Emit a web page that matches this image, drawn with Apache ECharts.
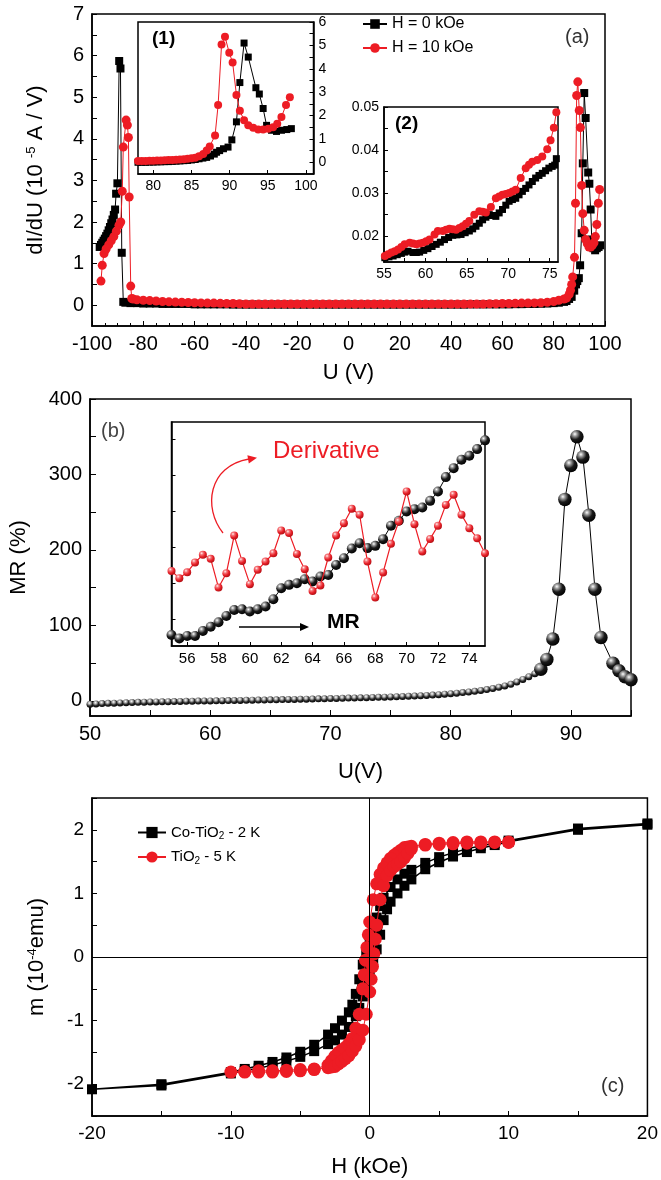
<!DOCTYPE html>
<html><head><meta charset="utf-8">
<script src="https://cdn.jsdelivr.net/npm/echarts@6.0.0/dist/echarts.min.js"></script>
<style>html,body{margin:0;padding:0;background:#fff}#c{width:661px;height:1180px}</style>
</head><body><div id="c"></div>
<script>
// ---------- DATA ----------
// Panel (a): dI/dU vs U (main)
const dIdU_H0 = [[-97,1.40],[-96.5,1.45],[-96,1.50],[-95.5,1.55],[-95,1.60],[-94.5,1.66],[-94,1.72],[-93.5,1.80],[-93,1.88],[-92.5,1.97],[-92,2.06],[-91.5,2.17],[-91,2.30],[-90.6,2.68],[-90.1,2.93],[-89.4,5.87],[-88.9,5.69],[-88.4,1.26],[-87.8,0.08],
[-87,0.06],[-85,0.05],[-82.5,0.05],[-80,0.04],[-77.5,0.04],[-75,0.04],[-72.5,0.03],[-70,0.03],[-67.5,0.03],[-65,0.03],[-62.5,0.03],[-60,0.02],[-57.5,0.02],[-55,0.02],[-52.5,0.02],[-50,0.02],[-47.5,0.02],[-45,0.015],[-42.5,0.015],[-40,0.015],[-37.5,0.015],[-35,0.015],[-32.5,0.015],[-30,0.015],[-27.5,0.015],[-25,0.015],[-22.5,0.015],[-20,0.015],[-17.5,0.015],[-15,0.015],[-12.5,0.015],[-10,0.015],[-7.5,0.015],[-5,0.015],[-2.5,0.015],[0,0.015],[2.5,0.015],[5,0.015],[7.5,0.015],[10,0.015],[12.5,0.015],[15,0.015],[17.5,0.015],[20,0.015],[22.5,0.015],[25,0.015],[27.5,0.015],[30,0.015],[32.5,0.015],[35,0.015],[37.5,0.015],[40,0.015],[42.5,0.015],[45,0.015],[47.5,0.02],[50,0.02],[52.5,0.02],[55,0.02],[57.5,0.02],[60,0.02],[62.5,0.02],[65,0.025],[67.5,0.025],[70,0.03],[72.5,0.03],[75,0.035],[77.5,0.04],[80,0.05],
[82,0.06],[84,0.08],[85,0.1],[86,0.15],[87,0.2],[88,0.35],[88.7,0.5],[89.2,0.58],[89.8,0.65],[90.3,0.96],[90.9,1.73],[91.35,3.41],[91.9,5.1],[92.45,4.5],[93.45,3.19],[93.9,2.92],[94.4,2.3],[94.85,1.58],[95.5,1.37],[96.15,1.32],[96.8,1.37],[97.5,1.4],[98.1,1.44]];
const dIdU_H10 = [[-96.5,0.58],[-96,0.96],[-95.3,1.24],[-94.5,1.35],[-93.5,1.45],[-92.5,1.55],[-91.5,1.65],[-90.5,1.78],[-89.5,1.92],[-88.8,2.0],[-88.2,2.74],[-87.8,3.8],[-86.7,4.45],[-86.2,4.33],[-85.8,4.03],[-85.5,2.6],[-84.9,0.46],[-84.5,0.16],
[-84,0.15],[-82.5,0.13],[-80,0.12],[-77.5,0.11],[-75,0.1],[-72.5,0.09],[-70,0.08],[-67.5,0.075],[-65,0.07],[-62.5,0.065],[-60,0.06],[-57.5,0.055],[-55,0.05],[-52.5,0.05],[-50,0.045],[-47.5,0.04],[-45,0.04],[-42.5,0.035],[-40,0.03],[-37.5,0.03],[-35,0.03],[-32.5,0.03],[-30,0.03],[-27.5,0.03],[-25,0.03],[-22.5,0.03],[-20,0.03],[-17.5,0.03],[-15,0.03],[-12.5,0.03],[-10,0.03],[-7.5,0.03],[-5,0.03],[-2.5,0.03],[0,0.03],[2.5,0.03],[5,0.03],[7.5,0.03],[10,0.03],[12.5,0.03],[15,0.03],[17.5,0.03],[20,0.03],[22.5,0.03],[25,0.03],[27.5,0.03],[30,0.03],[32.5,0.03],[35,0.03],[37.5,0.03],[40,0.03],[42.5,0.03],[45,0.03],[47.5,0.03],[50,0.03],[52.5,0.03],[55,0.035],[57.5,0.035],[60,0.04],[62.5,0.04],[65,0.045],[67.5,0.05],[70,0.05],[72.5,0.055],[75,0.06],[77.5,0.07],[80,0.09],
[82,0.12],[84,0.15],[85,0.17],[86,0.26],[86.55,0.36],[87,0.5],[87.4,0.68],[88.1,1.15],[88.5,2.45],[88.95,5.04],[89.4,5.37],[89.96,4.68],[90.4,4.27],[90.9,2.88],[91.35,2.2],[91.9,1.8],[92.45,1.58],[93.1,1.48],[93.75,1.4],[94.4,1.4],[95.07,1.44],[95.7,1.5],[96.25,1.65],[96.8,1.94],[97.4,2.45],[97.9,2.78]];

// Inset (1): 78-101 V
const in1_H0 = [[78,0.0],[78.5,0.0],[79,0.0],[79.5,0.01],[80,0.01],[80.5,0.02],[81,0.02],[81.5,0.03],[82,0.03],[82.5,0.04],[83,0.05],[83.5,0.06],[84,0.07],[84.5,0.08],[85,0.1],[85.5,0.12],[86,0.15],[86.5,0.18],[87,0.21],[87.5,0.27],[88,0.35],[88.3,0.43],[88.7,0.5],[89.2,0.58],[89.8,0.65],[90.3,0.96],[90.9,1.73],[91.35,3.41],[91.9,5.1],[92.45,4.5],[93.45,3.19],[93.9,2.92],[94.4,2.3],[94.85,1.58],[95.5,1.37],[96.15,1.32],[96.8,1.37],[97.5,1.4],[98.1,1.44]];
const in1_H10 = [[78,0.06],[78.5,0.06],[79,0.06],[79.5,0.07],[80,0.07],[80.5,0.08],[81,0.08],[81.5,0.09],[82,0.1],[82.5,0.1],[83,0.11],[83.5,0.12],[84,0.13],[84.5,0.15],[85,0.17],[85.5,0.2],[86,0.26],[86.55,0.36],[87,0.5],[87.4,0.68],[88.1,1.15],[88.5,2.45],[88.95,5.04],[89.4,5.37],[89.96,4.68],[90.4,4.27],[90.9,2.88],[91.35,2.2],[91.9,1.8],[92.45,1.58],[93.1,1.48],[93.75,1.4],[94.4,1.4],[95.07,1.44],[95.7,1.5],[96.25,1.65],[96.8,1.94],[97.4,2.45],[97.9,2.78]];

// Inset (2): 55-76 V
const in2_H0 = [[55.1,0.0150],[55.6,0.0152],[56.1,0.0154],[56.6,0.0157],[57.1,0.0160],[57.5,0.0163],[57.9,0.0165],[58.5,0.0162],[58.9,0.0162],[59.3,0.0163],[59.8,0.0167],[60.3,0.0171],[60.8,0.0176],[61.3,0.0181],[61.8,0.0186],[62.3,0.0192],[62.8,0.0197],[63.3,0.0202],[63.8,0.0203],[64.3,0.0204],[64.8,0.0208],[65.3,0.0212],[65.7,0.0217],[66.1,0.0223],[66.5,0.0230],[66.9,0.0238],[67.3,0.0244],[67.7,0.0250],[68.1,0.0248],[68.5,0.0246],[68.9,0.0254],[69.3,0.0262],[69.7,0.0272],[70.1,0.0281],[70.5,0.0285],[70.9,0.0288],[71.3,0.0296],[71.7,0.0304],[72.1,0.0311],[72.5,0.0319],[72.9,0.0327],[73.3,0.0335],[73.7,0.0341],[74.1,0.0346],[74.5,0.0352],[74.9,0.0358],[75.3,0.0362],[75.6,0.0365],[75.8,0.0380]];
const in2_H10 = [[55.1,0.0154],[55.5,0.0158],[55.9,0.0162],[56.3,0.0165],[56.7,0.0169],[57.1,0.0175],[57.5,0.0181],[58.1,0.0185],[58.5,0.0183],[58.9,0.0181],[59.3,0.0183],[59.7,0.0185],[60.1,0.0188],[60.5,0.0192],[61.1,0.0204],[61.5,0.0212],[62.1,0.0212],[62.5,0.0215],[62.9,0.0217],[63.3,0.0216],[63.7,0.0215],[64.1,0.0219],[64.5,0.0223],[64.9,0.0229],[65.3,0.0235],[65.9,0.0250],[66.5,0.0258],[66.9,0.0257],[67.3,0.0255],[67.9,0.0268],[68.5,0.0288],[68.9,0.0292],[69.3,0.0296],[69.7,0.0298],[70.1,0.0300],[70.5,0.0304],[70.9,0.0308],[71.5,0.0335],[72.1,0.0358],[72.5,0.0366],[72.9,0.0373],[73.5,0.0377],[74.1,0.0385],[74.7,0.0402],[75.1,0.0423],[75.5,0.0452],[75.8,0.0488]];

// Panel (b): MR vs U
const MR_main = [[50,-4.5],[50.5,-4],[51,-3.5],[51.5,-3.2],[52,-3],[52.5,-2.7],[53,-2.4],[53.5,-2.1],[54,-1.9],[54.5,-1.7],[55,-1.5],[55.5,-1.3],[56,-1.1],[56.5,-1],[57,-0.8],[57.5,-0.7],[58,-0.5],[58.5,-0.4],[59,-0.2],[59.5,-0.1],[60,0],[60.5,0.1],[61,0.3],[61.5,0.4],[62,0.6],[62.5,0.7],[63,0.8],[63.5,1],[64,1.1],[64.5,1.2],[65,1.4],[65.5,1.5],[66,1.7],[66.5,1.9],[67,2],[67.5,2.2],[68,2.3],[68.5,2.5],[69,2.7],[69.5,2.9],[70,3.1],[70.5,3.3],[71,3.5],[71.5,3.7],[72,3.9],[72.5,4.1],[73,4.3],[73.5,4.6],[74,4.8],[74.5,5],[75,5.3],[75.5,5.6],[76,5.9],[76.5,6.2],[77,6.5],[77.5,6.9],[78,7.3],[78.5,7.8],[79,8.3],[79.5,8.9],[80,9.5],[80.5,10.2],[81,11],[81.5,11.8],[82,12.7],[82.5,13.8],[83,15],[83.5,16.4],[84,18],[84.5,19.8],[85,22],[85.5,25],[86,28.5],[86.5,32],[87,36],[87.5,42],[88,55],[88.5,82],[89,148],[89.5,267],[90,312],[90.5,350],[91,323],[91.5,246],[92,148],[92.5,84],[93.5,50],[94,40],[94.5,32],[95,28]];
// Panel (b) inset: 55-75 V (arbitrary units)
const insU = [55,55.5,56,56.5,57,57.5,58,58.5,59,59.5,60,60.5,61,61.5,62,62.5,63,63.5,64,64.5,65,65.5,66,66.5,67,67.5,68,68.5,69,69.5,70,70.5,71,71.5,72,72.5,73,73.5,74,74.5,75];
const insMR = [4.9,3.4,4.5,4.5,6.7,8.6,10.6,13.4,16.1,16.4,15.4,16.4,17.6,20.9,25.8,27.3,28.0,29.8,28.8,31.0,31.7,36.2,39.2,43.5,45.9,43.7,44.7,47.7,53.7,55.9,60.1,61.1,61.8,64.8,69.0,75.4,79.4,83.2,84.9,87.9,91.8];
const insDeriv = [33.5,30.3,32.9,37.3,40.7,38.9,26.1,32.5,49.3,38.0,27.6,34.0,37.7,41.4,51.6,50.4,41.1,34.3,24.6,27.0,39.5,49.3,54.8,61.3,58.6,37.7,21.6,32.8,45.6,55.6,69.0,54.4,42.2,47.8,53.7,63.0,67.5,58.6,52.6,48.1,41.4];

// Panel (c): m vs H loops
const m_CoTiO2 = [[20,2.1],[15,2.02],[10,1.83],[9,1.79],[8,1.75],[7,1.7],[6,1.64],[5,1.57],[4,1.48],[3,1.37],[2.5,1.31],[2,1.22],[1.5,1.1],[1,0.93],[0.75,0.8],[0.5,0.62],[0.25,0.42],[0,0.22],[-0.25,0.05],[-0.5,-0.12],[-0.75,-0.35],[-1,-0.58],[-1.25,-0.75],[-1.5,-0.87],[-2,-1.0],[-2.5,-1.12],[-3,-1.22],[-4,-1.38],[-5,-1.49],[-6,-1.58],[-7,-1.65],[-8,-1.71],[-9,-1.76],[-10,-1.81],[-15,-2.0],[-20,-2.08],
[-15,-2.02],[-10,-1.83],[-9,-1.79],[-8,-1.75],[-7,-1.7],[-6,-1.64],[-5,-1.57],[-4,-1.48],[-3,-1.37],[-2.5,-1.31],[-2,-1.22],[-1.5,-1.1],[-1,-0.93],[-0.75,-0.8],[-0.5,-0.62],[-0.25,-0.42],[0,-0.22],[0.25,-0.05],[0.5,0.12],[0.75,0.35],[1,0.58],[1.25,0.75],[1.5,0.87],[2,1.0],[2.5,1.12],[3,1.22],[4,1.38],[5,1.49],[6,1.58],[7,1.65],[8,1.71],[9,1.76],[10,1.81],[15,2.0],[20,2.08]];
const m_TiO2 = [[10,1.8],[9,1.81],[8,1.81],[7,1.81],[6,1.8],[5,1.79],[4,1.77],[3,1.74],[2.75,1.73],[2.5,1.72],[2.25,1.68],[2,1.64],[1.75,1.6],[1.5,1.55],[1.25,1.48],[1,1.4],[0.75,1.3],[0.5,1.15],[0.25,0.9],[0,0.55],[-0.1,0.35],[-0.2,0.15],[-0.3,-0.05],[-0.4,-0.28],[-0.5,-0.5],[-0.75,-0.9],[-1,-1.12],[-1.25,-1.28],[-1.5,-1.36],[-1.75,-1.42],[-2,-1.46],[-2.25,-1.5],[-2.5,-1.56],[-2.75,-1.63],[-3,-1.7],[-4,-1.76],[-5,-1.77],[-6,-1.78],[-7,-1.79],[-8,-1.79],[-9,-1.8],[-10,-1.81],
[-9,-1.81],[-8,-1.81],[-7,-1.81],[-6,-1.8],[-5,-1.79],[-4,-1.77],[-3,-1.74],[-2.75,-1.73],[-2.5,-1.72],[-2.25,-1.68],[-2,-1.64],[-1.75,-1.6],[-1.5,-1.55],[-1.25,-1.48],[-1,-1.4],[-0.75,-1.3],[-0.5,-1.15],[-0.25,-0.9],[0,-0.55],[0.1,-0.35],[0.2,-0.15],[0.3,0.05],[0.4,0.28],[0.5,0.5],[0.75,0.9],[1,1.12],[1.25,1.28],[1.5,1.36],[1.75,1.42],[2,1.46],[2.25,1.5],[2.5,1.56],[2.75,1.63],[3,1.7],[4,1.76],[5,1.77],[6,1.78],[7,1.79],[8,1.79],[9,1.8],[10,1.81]];

// Tick values
const aYLabels = [0,1,2,3,4,5,6,7];
const aYTicks = [0,0.5,1,1.5,2,2.5,3,3.5,4,4.5,5,5.5,6,6.5,7];
const in1XLabels = [80,85,90,95,100];
const in1YLabels = [0,1,2,3,4,5,6];
const in1YTicks = [0,0.5,1,1.5,2,2.5,3,3.5,4,4.5,5,5.5,6];
const in2XLabels = [55,60,65,70,75];
const in2XTicks = [55,57.5,60,62.5,65,67.5,70,72.5,75];
const in2YLabels = [0.02,0.03,0.04,0.05];
const in2YTicks = [0.015,0.02,0.025,0.03,0.035,0.04,0.045,0.05];
const bYLabels = [0,100,200,300,400];
const bYTicks = [0,50,100,150,200,250,300,350,400];
const insXLabels = [56,58,60,62,64,66,68,70,72,74];
const insYTicks = [11.8,27.9,44.0,60.1,76.2,92.3];

// ---------- STYLE / OPTION ----------
const FONT = 'Arial, "Liberation Sans", sans-serif';
const RED = '#ed1c24';
function merge(a, b) {
  const r = Object.assign({}, a);
  for (const k in b) {
    const v = b[k];
    if (v && typeof v === 'object' && !Array.isArray(v) && r[k] && typeof r[k] === 'object' && !Array.isArray(r[k]) && !(v instanceof echarts.graphic.RadialGradient)) r[k] = merge(r[k], v);
    else r[k] = v;
  }
  return r;
}
function axis(o) {
  return merge({
    type: 'value',
    axisLine: {show: true, onZero: false, lineStyle: {color: '#000', width: 1.5}},
    axisTick: {show: true, inside: true, length: 5, lineStyle: {color: '#000', width: 1}},
    axisLabel: {color: '#000', fontFamily: FONT, fontSize: 20, margin: 8},
    splitLine: {show: false},
    nameLocation: 'middle',
    nameTextStyle: {color: '#000', fontFamily: FONT, fontSize: 22}
  }, o);
}
function grid(l, t, w, h, bg) {
  return {left: l, top: t, width: w, height: h, show: true, borderColor: '#000', borderWidth: 1.5, backgroundColor: bg || 'transparent'};
}
const blackBall = new echarts.graphic.RadialGradient(0.35, 0.3, 0.75, [
  {offset: 0, color: '#ffffff'}, {offset: 0.22, color: '#9a9a9a'}, {offset: 0.55, color: '#1a1a1a'}, {offset: 1, color: '#000'}]);
const smallBall = new echarts.graphic.RadialGradient(0.42, 0.32, 0.7, [
  {offset: 0, color: '#ffffff'}, {offset: 0.3, color: '#a8a8a8'}, {offset: 0.62, color: '#2a2a2a'}, {offset: 1, color: '#000'}]);
const redBall = new echarts.graphic.RadialGradient(0.35, 0.3, 0.75, [
  {offset: 0, color: '#fff3f3'}, {offset: 0.25, color: '#f5797d'}, {offset: 0.6, color: '#e8222a'}, {offset: 1, color: '#b00d12'}]);

const sub = {n: {fontFamily: FONT, fontSize: 22, color: '#000'}, s: {fontFamily: FONT, fontSize: 13, color: '#000', verticalAlign: 'top'}};

const option = {
  animation: false,
  backgroundColor: '#fff',
  grid: [
    grid(92, 14, 513, 312),
    grid(138, 22, 175.5, 152, '#fff'),
    grid(384, 107, 174, 155, '#fff'),
    grid(90, 399, 541, 317),
    grid(171.5, 422, 313.5, 224, '#fff'),
    grid(92, 798, 557, 318)
  ],
  xAxis: [
    axis({gridIndex: 0, min: -100, max: 100, interval: 20, minorTick: {show: true, splitNumber: 4, length: 3, lineStyle: {color: '#000'}},
      name: 'U (V)', nameGap: 36}),
    axis({gridIndex: 1, min: 78, max: 101, axisLabel: {fontSize: 14, margin: 5, customValues: in1XLabels}, axisTick: {customValues: in1XLabels, length: 4}}),
    axis({gridIndex: 2, min: 55, max: 76, axisLabel: {fontSize: 14, margin: 5, customValues: in2XLabels}, axisTick: {customValues: in2XTicks, length: 4}}),
    axis({gridIndex: 3, min: 50, max: 95, interval: 5, axisLabel: {formatter: v => (v % 10 === 0 ? String(v) : '')},
      axisTick: {length: 6}, name: 'U(V)', nameGap: 45}),
    axis({gridIndex: 4, min: 55, max: 75, axisLabel: {fontSize: 15, margin: 5, customValues: insXLabels}, axisTick: {customValues: insXLabels, length: 4}}),
    axis({gridIndex: 5, min: -20, max: 20, interval: 5, axisLabel: {fontSize: 19, formatter: v => (v % 10 === 0 ? String(v) : '')},
      axisTick: {length: 5}, name: 'H (kOe)', nameGap: 40})
  ],
  yAxis: [
    axis({gridIndex: 0, min: -0.5, max: 7, axisLabel: {customValues: aYLabels}, axisTick: {customValues: aYTicks},
      name: '{n|dI/dU (10 }{s|-5}{n| A / V)}', nameGap: 45, nameTextStyle: {rich: sub}}),
    axis({gridIndex: 1, position: 'right', min: -0.5, max: 6, axisLabel: {fontSize: 14, margin: 5, customValues: in1YLabels}, axisTick: {customValues: in1YTicks, length: 4}}),
    axis({gridIndex: 2, min: 0.014, max: 0.05, axisLabel: {fontSize: 14, margin: 5, customValues: in2YLabels, formatter: v => v.toFixed(2)}, axisTick: {customValues: in2YTicks, length: 4}}),
    axis({gridIndex: 3, min: -20, max: 400, axisLabel: {customValues: bYLabels}, axisTick: {customValues: bYTicks, length: 6},
      name: 'MR (%)', nameGap: 60}),
    axis({gridIndex: 4, min: 0, max: 100, axisLabel: {show: false}, axisTick: {customValues: insYTicks, length: 4}}),
    axis({gridIndex: 5, min: -2.5, max: 2.5, interval: 0.5, axisLabel: {fontSize: 19, formatter: v => (Number.isInteger(v) ? String(v) : '')},
      name: '{n|m (10}{s|-4}{n|emu)}', nameGap: 44, nameTextStyle: {rich: sub}})
  ],
  legend: [
    {data: ['H = 0 kOe', 'H = 10 kOe'], orient: 'vertical', left: 357, top: 11, itemWidth: 24, itemHeight: 12, itemGap: 8,
      textStyle: {fontFamily: FONT, fontSize: 16, color: '#000'}},
    {data: ['Co-TiO2 - 2 K', 'TiO2 - 5 K'], orient: 'vertical', left: 132, top: 820, itemWidth: 28, itemHeight: 14, itemGap: 8,
      formatter: name => name === 'TiO2 - 5 K' ? '{n|TiO}{b|2}{n| - 5 K}' : '{n|Co-TiO}{b|2}{n| - 2 K}',
      textStyle: {fontFamily: FONT, fontSize: 15, color: '#000',
        rich: {n: {fontFamily: FONT, fontSize: 15, color: '#000'}, b: {fontFamily: FONT, fontSize: 10, color: '#000', verticalAlign: 'bottom', padding: [8, 0, 0, 0]}}}}
  ],
  series: [
    {name: 'H = 0 kOe', type: 'line', xAxisIndex: 0, yAxisIndex: 0, data: dIdU_H0, symbol: 'rect', symbolSize: 8,
      itemStyle: {color: '#000'}, lineStyle: {color: '#000', width: 1}, z: 3},
    {name: 'H = 10 kOe', type: 'line', xAxisIndex: 0, yAxisIndex: 0, data: dIdU_H10, symbol: 'circle', symbolSize: 9,
      itemStyle: {color: RED}, lineStyle: {color: RED, width: 1}, z: 4},
    {name: 'H = 0 kOe', type: 'line', xAxisIndex: 1, yAxisIndex: 1, data: in1_H0, symbol: 'rect', symbolSize: 7,
      itemStyle: {color: '#000'}, lineStyle: {color: '#000', width: 1}, z: 5},
    {name: 'H = 10 kOe', type: 'line', xAxisIndex: 1, yAxisIndex: 1, data: in1_H10, symbol: 'circle', symbolSize: 8,
      itemStyle: {color: RED}, lineStyle: {color: RED, width: 1}, z: 6},
    {name: 'H = 0 kOe', type: 'line', xAxisIndex: 2, yAxisIndex: 2, data: in2_H0, symbol: 'rect', symbolSize: 7,
      itemStyle: {color: '#000'}, lineStyle: {color: '#000', width: 1}, z: 5},
    {name: 'H = 10 kOe', type: 'line', xAxisIndex: 2, yAxisIndex: 2, data: in2_H10, symbol: 'circle', symbolSize: 8,
      itemStyle: {color: RED}, lineStyle: {color: RED, width: 1}, z: 6},
    {name: 'MR', type: 'line', xAxisIndex: 3, yAxisIndex: 3, data: MR_main, symbol: 'circle',
      symbolSize: v => (v[0] >= 87.5 ? 13.5 : 7),
      itemStyle: {color: p => (p.value[0] >= 87.5 ? blackBall : smallBall)}, lineStyle: {color: '#000', width: 1}, z: 3},
    {name: 'MR inset', type: 'line', xAxisIndex: 4, yAxisIndex: 4, data: insU.map((u, i) => [u, insMR[i]]), symbol: 'circle', symbolSize: 10,
      itemStyle: {color: blackBall}, lineStyle: {color: '#000', width: 1}, z: 5},
    {name: 'Derivative', type: 'line', xAxisIndex: 4, yAxisIndex: 4, data: insU.map((u, i) => [u, insDeriv[i]]), symbol: 'circle', symbolSize: 8,
      itemStyle: {color: redBall}, lineStyle: {color: RED, width: 1.2}, z: 6},
    {name: 'zero', type: 'line', xAxisIndex: 5, yAxisIndex: 5, data: [], z: 1, silent: true,
      markLine: {silent: true, symbol: 'none', label: {show: false}, lineStyle: {color: '#000', width: 1, type: 'solid'},
        data: [{xAxis: 0}, {yAxis: 0}]}},
    {name: 'Co-TiO2 - 2 K', type: 'line', xAxisIndex: 5, yAxisIndex: 5, data: m_CoTiO2, symbol: 'rect', symbolSize: 10,
      itemStyle: {color: '#000'}, lineStyle: {color: '#000', width: 1.5}, z: 3},
    {name: 'TiO2 - 5 K', type: 'line', xAxisIndex: 5, yAxisIndex: 5, data: m_TiO2, symbol: 'circle', symbolSize: 13,
      itemStyle: {color: RED}, lineStyle: {color: RED, width: 1}, z: 4}
  ],
  graphic: [
    {type: 'text', left: 565, top: 27, style: {text: '(a)', font: '20px ' + FONT, fill: '#333'}},
    {type: 'text', left: 152, top: 29, style: {text: '(1)', font: 'bold 19px ' + FONT, fill: '#000'}},
    {type: 'text', left: 395, top: 114, style: {text: '(2)', font: 'bold 19px ' + FONT, fill: '#000'}},
    {type: 'text', left: 101, top: 421, style: {text: '(b)', font: '20px ' + FONT, fill: '#444'}},
    {type: 'text', left: 601, top: 1076, style: {text: '(c)', font: '20px ' + FONT, fill: '#333'}},
    {type: 'text', left: 273, top: 439, style: {text: 'Derivative', font: '24px ' + FONT, fill: RED}},
    {type: 'text', left: 327, top: 612, style: {text: 'MR', font: 'bold 21px ' + FONT, fill: '#000'}},
    {type: 'bezierCurve', shape: {x1: 223, y1: 533, cpx1: 203, cpy1: 508, cpx2: 208, cpy2: 466, x2: 249, y2: 459},
      style: {stroke: RED, lineWidth: 1.3, fill: null}},
    {type: 'polygon', shape: {points: [[257, 457.8], [247.4, 455.2], [248.8, 463.4]]}, style: {fill: RED}},
    {type: 'line', shape: {x1: 239, y1: 627, x2: 302, y2: 627}, style: {stroke: '#000', lineWidth: 1.3}},
    {type: 'polygon', shape: {points: [[309, 627], [300, 623], [300, 631]]}, style: {fill: '#000'}}
  ]
};
const chart = echarts.init(document.getElementById('c'), null, {renderer: 'canvas', width: 661, height: 1180});
chart.setOption(option);
</script>
</body></html>
